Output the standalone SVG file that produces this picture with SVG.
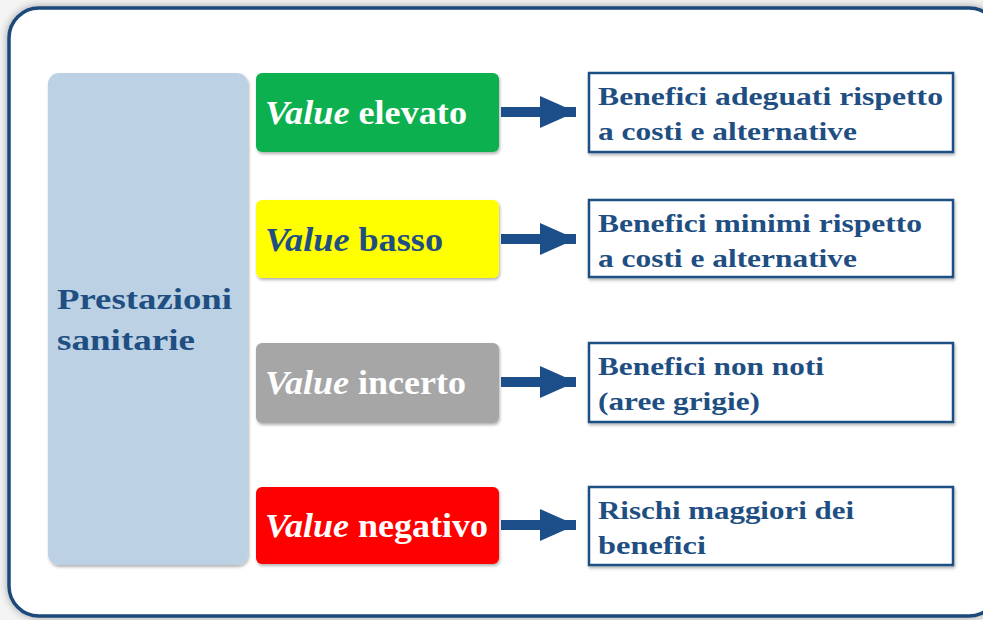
<svg xmlns="http://www.w3.org/2000/svg" width="983" height="620" viewBox="0 0 983 620">
<defs>
<filter id="sh" x="-10%" y="-10%" width="120%" height="130%"><feDropShadow dx="1" dy="2" stdDeviation="1.5" flood-color="#000" flood-opacity="0.3"/></filter>
<filter id="fsh" x="-5%" y="-5%" width="110%" height="110%"><feDropShadow dx="0" dy="0" stdDeviation="4" flood-color="#000" flood-opacity="0.35"/></filter>
<marker id="ah" markerUnits="userSpaceOnUse" markerWidth="36" markerHeight="32" refX="36" refY="16" orient="auto"><path d="M0,0 L36,16 L0,32 Z" fill="#1c4f8a"/></marker>
<style>
.t{font-family:"Liberation Serif","DejaVu Serif",serif;font-weight:bold}
.n{font-size:33px}
.i{font-style:italic}
.r{font-size:26px;fill:#1f4f82}
.res{fill:#fff;stroke:#1f4f82;stroke-width:2.5}
.arr{stroke:#1c4f8a;stroke-width:10;fill:none}
</style>
</defs>
<rect x="0" y="0" width="983" height="620" fill="#f4f4f4"/>
<rect x="9" y="8" width="990" height="608" rx="30" fill="#fff" stroke="#1b4a7a" stroke-width="3.5" filter="url(#fsh)"/>
<g id="prestazioni">
<rect x="48" y="73" width="200" height="492" rx="11" fill="#bcd1e3" filter="url(#sh)"/>
<text class="t" x="57" y="309" font-size="30" fill="#1f4f82" textLength="175" lengthAdjust="spacingAndGlyphs">Prestazioni</text>
<text class="t" x="57" y="350" font-size="30" fill="#1f4f82" textLength="138" lengthAdjust="spacingAndGlyphs">sanitarie</text>
</g>
<g id="elevato">
<rect x="256" y="73" width="243" height="79" rx="6" fill="#11b050" filter="url(#sh)"/>
<text class="t n" x="265" y="124" fill="#fff" textLength="202" lengthAdjust="spacingAndGlyphs"><tspan class="i">Value</tspan> elevato</text>
</g>
<g id="basso">
<rect x="256" y="200" width="243" height="78" rx="6" fill="#ffff00" filter="url(#sh)"/>
<text class="t n" x="265" y="251" fill="#1f4f82" textLength="178" lengthAdjust="spacingAndGlyphs"><tspan class="i">Value</tspan> basso</text>
</g>
<g id="incerto">
<rect x="256" y="343" width="243" height="80" rx="6" fill="#a6a6a6" filter="url(#sh)"/>
<text class="t n" x="265" y="394" fill="#fff" textLength="201" lengthAdjust="spacingAndGlyphs"><tspan class="i">Value</tspan> incerto</text>
</g>
<g id="negativo">
<rect x="256" y="487" width="243" height="77" rx="6" fill="#ff0000" filter="url(#sh)"/>
<text class="t n" x="265" y="537" fill="#fff" textLength="223" lengthAdjust="spacingAndGlyphs"><tspan class="i">Value</tspan> negativo</text>
</g>
<g id="r1">
<rect class="res" x="589" y="73" width="364" height="79" filter="url(#sh)"/>
<text class="t r" x="598" y="105" textLength="345" lengthAdjust="spacingAndGlyphs">Benefici adeguati rispetto</text>
<text class="t r" x="598" y="140" textLength="259" lengthAdjust="spacingAndGlyphs">a costi e alternative</text>
</g>
<g id="r2">
<rect class="res" x="589" y="200" width="364" height="77" filter="url(#sh)"/>
<text class="t r" x="598" y="232" textLength="324" lengthAdjust="spacingAndGlyphs">Benefici minimi rispetto</text>
<text class="t r" x="598" y="267" textLength="259" lengthAdjust="spacingAndGlyphs">a costi e alternative</text>
</g>
<g id="r3">
<rect class="res" x="589" y="343" width="364" height="79" filter="url(#sh)"/>
<text class="t r" x="598" y="375" textLength="226" lengthAdjust="spacingAndGlyphs">Benefici non noti</text>
<text class="t r" x="598" y="410" textLength="162" lengthAdjust="spacingAndGlyphs">(aree grigie)</text>
</g>
<g id="r4">
<rect class="res" x="589" y="487" width="364" height="78" filter="url(#sh)"/>
<text class="t r" x="598" y="519" textLength="256" lengthAdjust="spacingAndGlyphs">Rischi maggiori dei</text>
<text class="t r" x="598" y="554" textLength="108" lengthAdjust="spacingAndGlyphs">benefici</text>
</g>
<g id="connectors">
<line class="arr" x1="501" y1="112" x2="576" y2="112" marker-end="url(#ah)"/>
<line class="arr" x1="501" y1="239" x2="576" y2="239" marker-end="url(#ah)"/>
<line class="arr" x1="501" y1="382" x2="576" y2="382" marker-end="url(#ah)"/>
<line class="arr" x1="501" y1="525" x2="576" y2="525" marker-end="url(#ah)"/>
</g>
</svg>
